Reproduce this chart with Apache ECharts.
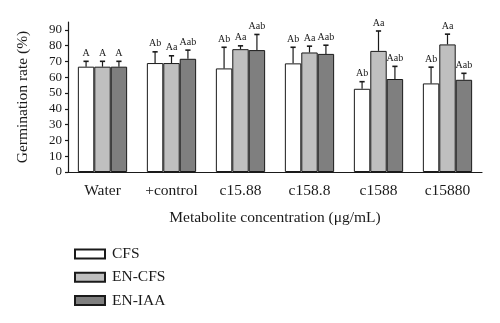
<!DOCTYPE html>
<html>
<head>
<meta charset="utf-8">
<script src="https://cdn.jsdelivr.net/npm/echarts@6/dist/echarts.min.js"></script>
<style>
  html, body { margin: 0; padding: 0; background: #fff; }
  #chart { width: 500px; height: 323px; }
</style>
</head>
<body>
<div id="chart"></div>
<script>
// Treatments along the x axis
const categories = ['Water', '+control', 'c15.88', 'c158.8', 'c1588', 'c15880'];

// Mean germination rate (%) per treatment
const cfs    = [66.7, 69.0, 65.6, 68.8, 52.7, 56.1];
const enCfs  = [66.7, 69.0, 77.8, 75.7, 76.7, 80.8];
const enIaa  = [66.7, 71.7, 77.2, 74.8, 58.9, 58.4];

// Standard deviation (upper whisker only)
const cfsErr   = [3.4, 7.1, 13.4, 10.2, 4.5, 10.3];
const enCfsErr = [3.4, 4.6, 2.1, 4.0, 12.6, 6.5];
const enIaaErr = [3.4, 5.5, 9.9, 5.5, 8.0, 4.1];

// Significance letters above each bar
const cfsSig   = ['A', 'Ab', 'Ab', 'Ab', 'Ab', 'Ab'];
const enCfsSig = ['A', 'Aa', 'Aa', 'Aa', 'Aa', 'Aa'];
const enIaaSig = ['A', 'Aab', 'Aab', 'Aab', 'Aab', 'Aab'];

// Y axis tick labels
const yTicks = [0, 10, 20, 30, 40, 50, 60, 70, 80, 90];

const FONT = '"Liberation Serif", "Times New Roman", serif';
const INK = '#1a1a1a';
const BAR_FRAC = 0.238; // share of a category band taken by one bar

const groups = [
  { name: 'CFS',    values: cfs,   err: cfsErr,   sig: cfsSig,   color: '#ffffff', slot: -1 },
  { name: 'EN-CFS', values: enCfs, err: enCfsErr, sig: enCfsSig, color: '#bfbfbf', slot: 0 },
  { name: 'EN-IAA', values: enIaa, err: enIaaErr, sig: enIaaSig, color: '#7f7f7f', slot: 1 }
];

const barSeries = groups.map(g => ({
  name: g.name,
  type: 'bar',
  data: g.values,
  barWidth: (BAR_FRAC * 100) + '%',
  barGap: '0%',
  itemStyle: { color: g.color, borderColor: INK, borderWidth: 1 },
  emphasis: { disabled: true },
  z: 2
}));

// Whiskers with caps and the letter labels, placed over the matching bar
const errSeries = groups.map(g => ({
  name: g.name + ' err',
  type: 'custom',
  z: 3,
  silent: true,
  data: g.values.map((v, i) => [i, v, v + g.err[i], g.sig[i]]),
  renderItem: function (params, api) {
    const i = api.value(0);
    const band = api.size([1, 0])[0];
    const bw = band * BAR_FRAC;
    const base = api.coord([i, api.value(1)]);
    const top = api.coord([i, api.value(2)]);
    const x = base[0] + g.slot * bw;
    const cap = 2.6;
    return {
      type: 'group',
      children: [
        { type: 'line', shape: { x1: x, y1: base[1], x2: x, y2: top[1] },
          style: { stroke: INK, lineWidth: 1.2 } },
        { type: 'line', shape: { x1: x - cap, y1: top[1], x2: x + cap, y2: top[1] },
          style: { stroke: INK, lineWidth: 1.6 } },
        { type: 'text', x: x, y: top[1] - 3,
          style: { text: g.sig[i], font: '10px ' + FONT, fill: INK,
                   align: 'center', verticalAlign: 'bottom' } }
      ]
    };
  }
}));

const chart = echarts.init(document.getElementById('chart'), null, { renderer: 'canvas' });
chart.setOption({
  animation: false,
  backgroundColor: '#ffffff',
  textStyle: { fontFamily: FONT, color: INK },
  grid: { left: 68, right: 18, top: 22, bottom: 151, containLabel: false },
  legend: {
    data: ['CFS', 'EN-CFS', 'EN-IAA'],
    orient: 'vertical',
    left: 69,
    top: 241,
    itemWidth: 30,
    itemHeight: 9,
    itemGap: 7.3,
    icon: 'rect',
    selectedMode: false,
    textStyle: { fontFamily: FONT, fontSize: 15.5, color: INK, lineHeight: 16, padding: [0, 0, 0, 2] }
  },
  xAxis: {
    type: 'category',
    data: categories,
    name: 'Metabolite concentration (\u03bcg/mL)',
    nameLocation: 'middle',
    nameGap: 38,
    nameTextStyle: { fontFamily: FONT, fontSize: 15.5, color: INK },
    axisLine: { lineStyle: { color: INK, width: 1.2 } },
    axisTick: { alignWithLabel: true, length: 5, lineStyle: { color: INK, width: 1.2 } },
    axisLabel: { fontFamily: FONT, fontSize: 15.5, color: INK, margin: 11 },
    splitLine: { show: false }
  },
  yAxis: {
    type: 'value',
    min: 0,
    max: 95,
    interval: 5,
    name: 'Germination rate (%)',
    nameLocation: 'middle',
    nameGap: 37,
    nameTextStyle: { fontFamily: FONT, fontSize: 15.5, color: INK },
    axisLine: { show: true, lineStyle: { color: INK, width: 1.2 } },
    axisTick: { show: true, length: 3, customValues: yTicks, lineStyle: { color: INK, width: 1.2 } },
    axisLabel: { fontFamily: FONT, fontSize: 13, color: INK, margin: 6, customValues: yTicks },
    splitLine: { show: false }
  },
  series: [...barSeries, ...errSeries]
});
</script>
</body>
</html>
